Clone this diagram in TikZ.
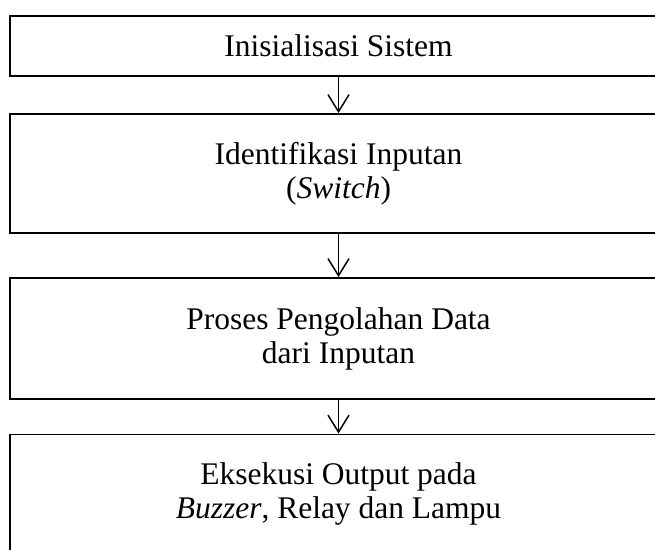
\documentclass[tikz,border=0pt]{standalone}
\usepackage{fontspec}
\setmainfont[Ligatures=NoCommon]{Liberation Serif}
\usetikzlibrary{arrows.meta}
\begin{document}
\begin{tikzpicture}[x=1pt,y=-1pt,
  flowbox/.style={draw=black,line width=1.9pt,minimum width=657pt,inner sep=0pt,
    align=center,font=\fontsize{31.5}{34}\selectfont},
  flowarrow/.style={line width=1.5pt,-{Straight Barb[length=17pt,width=21pt,line width=1.5pt]}}]
\useasboundingbox (0,0) rectangle (655,549);
\clip (0,0) rectangle (655,549);
\fill[white] (0,0) rectangle (655,549);
\node[flowbox,minimum height=60pt] (b1) at (338.5,46) {Inisialisasi Sistem};
\node[flowbox,minimum height=119pt] (b2) at (338.5,173.5) {Identifikasi Inputan\\(\textit{Switch})};
\node[flowbox,minimum height=121pt] (b3) at (338.5,338.5) {Proses Pengolahan Data\\dari Inputan};
\node[flowbox,minimum height=119pt] (b4) at (338.5,494) {Eksekusi Output pada\\\textit{Buzzer}, Relay dan Lampu};
\draw[flowarrow] (b1.south) -- (b2.north);
\draw[flowarrow] (b2.south) -- (b3.north);
\draw[flowarrow] (b3.south) -- (b4.north);
\end{tikzpicture}
\end{document}
